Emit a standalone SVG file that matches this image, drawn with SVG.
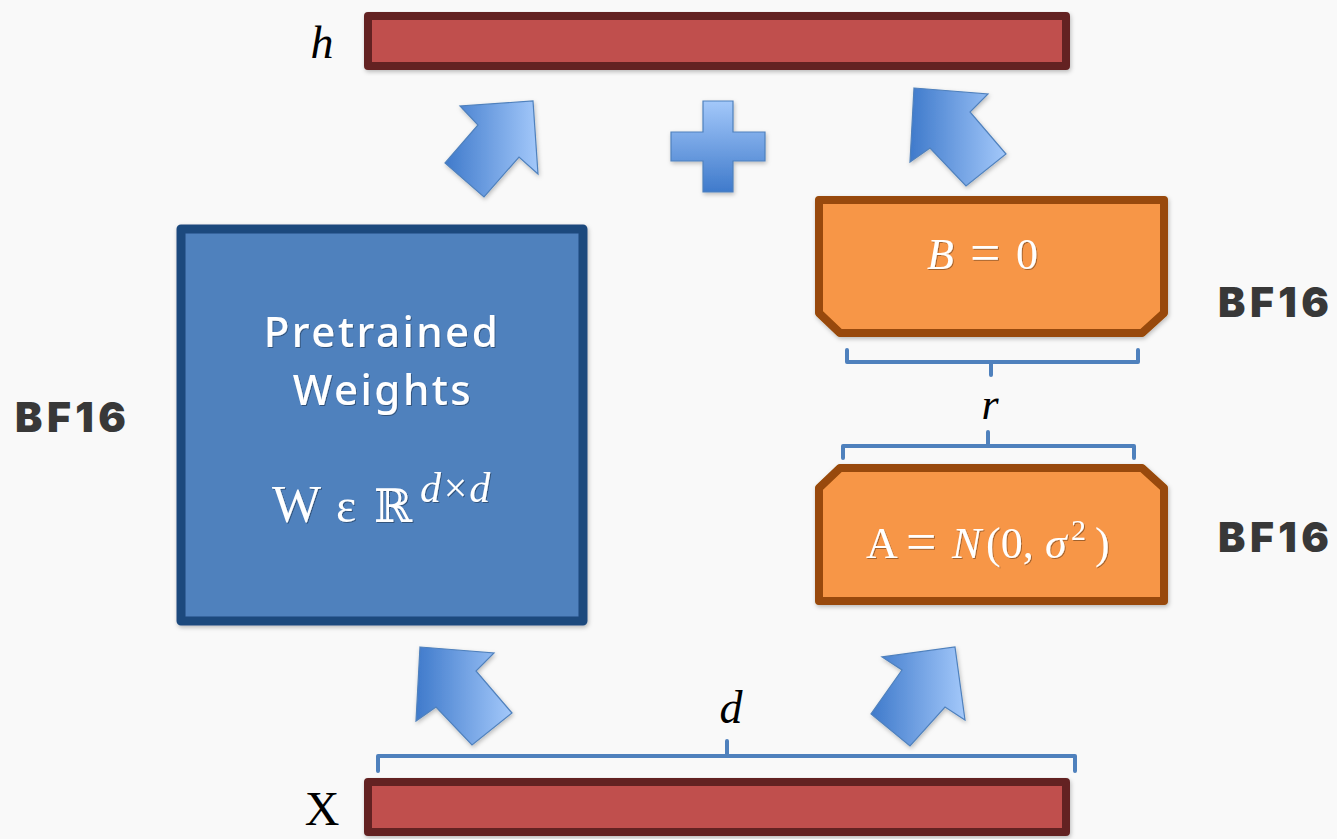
<svg xmlns="http://www.w3.org/2000/svg" width="1337" height="839" viewBox="0 0 1337 839">
<defs>
<linearGradient id="gArrowR" x1="0" y1="0" x2="1" y2="0">
<stop offset="0" stop-color="#3F7ACB"/><stop offset="1" stop-color="#A3C8FA"/>
</linearGradient>
<linearGradient id="gArrowL" x1="0" y1="0" x2="1" y2="0">
<stop offset="0" stop-color="#3F7ACB"/><stop offset="1" stop-color="#A3C8FA"/>
</linearGradient>
<linearGradient id="gPlus" x1="0" y1="0" x2="0" y2="1">
<stop offset="0" stop-color="#A3C8FA"/><stop offset="1" stop-color="#3F7ACB"/>
</linearGradient>
<filter id="sh" x="-10%" y="-10%" width="130%" height="130%">
<feDropShadow dx="1" dy="2" stdDeviation="2" flood-color="#000" flood-opacity="0.25"/>
</filter>
<filter id="tsh" x="-5%" y="-5%" width="110%" height="120%">
<feDropShadow dx="1" dy="1" stdDeviation="0.6" flood-color="#000" flood-opacity="0.35"/>
</filter>
<style>
.bar{fill:#C0504D;stroke:#632223;stroke-width:8;stroke-linejoin:round}
.arrow{stroke:#4F81BD;stroke-width:1.2;stroke-linejoin:miter}
.orange{fill:#F79646;stroke:#984807;stroke-width:8;stroke-linejoin:round}
.brace{fill:none;stroke:#4F81BD;stroke-width:4;stroke-linecap:round;stroke-linejoin:round}
.math{font-family:"Liberation Serif","DejaVu Serif",serif}
.it{font-style:italic}
.eq{font-size:54px}
.bf{font-family:Inter,"DejaVu Sans",sans-serif;font-weight:900;font-size:41px;fill:#383838;letter-spacing:4.5px}
.wt{font-family:"Noto Sans","Open Sans",sans-serif;font-weight:500;fill:#FFFFFF;font-size:42px;letter-spacing:2.5px}
</style>
</defs>
<rect x="0" y="0" width="1337" height="839" fill="#F9F9F9"/>

<g id="h-bar">
<rect class="bar" x="368" y="16" width="698" height="50" filter="url(#sh)"/>
<text class="math it" x="322" y="58" font-size="46" text-anchor="middle" fill="#000">h</text>
</g>

<g id="x-bar">
<rect class="bar" x="368" y="782" width="698" height="50" filter="url(#sh)"/>
<text class="math" x="322" y="825" font-size="48" text-anchor="middle" fill="#000">X</text>
</g>

<g id="pretrained">
<rect x="181" y="229" width="402" height="392" fill="#4F81BD" stroke="#1F497D" stroke-width="9" stroke-linejoin="round" filter="url(#sh)"/>
<g filter="url(#tsh)">
<text class="wt" x="382" y="347" text-anchor="middle">Pretrained</text>
<text class="wt" x="383" y="405" text-anchor="middle">Weights</text>
<text class="math" fill="#FFFFFF" font-size="52"><tspan x="272" y="522">W</tspan><tspan x="336" y="522" font-size="48">ε</tspan><tspan x="374" y="522" font-family="DejaVu Serif,serif" font-size="46">ℝ</tspan><tspan class="it" x="420" y="502" font-size="42">d×d</tspan></text>
</g>
</g>

<g id="lora-b">
<path class="orange" d="M819,200 H1164 V313 L1142,333 H840 L819,313 Z" filter="url(#sh)"/>
<text class="math" y="269" font-size="44" fill="#FFFFFF" filter="url(#tsh)"><tspan class="it" x="927">B</tspan><tspan class="eq" x="970" y="271">=</tspan><tspan x="1016" y="269">0</tspan></text>
</g>

<g id="lora-a">
<path class="orange" d="M840,468 H1142 L1164,488 V601 H819 V488 Z" filter="url(#sh)"/>
<text class="math" y="558" font-size="44" fill="#FFFFFF" filter="url(#tsh)"><tspan x="866">A</tspan><tspan class="eq" x="906" y="560">=</tspan><tspan class="it" x="952" y="558">N</tspan><tspan x="986">(0,</tspan><tspan class="it" x="1045">σ</tspan><tspan x="1071" y="540" font-size="30">2</tspan><tspan x="1095" y="558">)</tspan></text>
</g>

<g id="label-bf16-left"><text class="bf" x="15" y="432">BF16</text></g>
<g id="label-bf16-b"><text class="bf" x="1218" y="317">BF16</text></g>
<g id="label-bf16-a"><text class="bf" x="1218" y="552">BF16</text></g>

<g id="plus">
<path d="M703,101 H733 V132 H765 V161 H733 V192 H703 V161 H671 V132 H703 Z" fill="url(#gPlus)" class="arrow" filter="url(#sh)"/>
</g>

<g id="connectors">
<path class="arrow" fill="url(#gArrowR)" filter="url(#sh)" d="M533,101 L538,174 L519,157 L484,197 L445,163 L478,125 L460,106 Z"/>
<path class="arrow" fill="url(#gArrowL)" filter="url(#sh)" d="M914,88 L988,94 L970,112 L1006,154 L966,186 L930,148 L910,162 Z"/>
<path class="arrow" fill="url(#gArrowL)" filter="url(#sh)" d="M420,647 L494,653 L476,671 L512,713 L472,745 L436,707 L416,721 Z"/>
<path class="arrow" fill="url(#gArrowR)" filter="url(#sh)" d="M955,647 L965,720 L945,707 L910,746 L871,714 L902,670 L882,657 Z"/>
<path class="brace" d="M847,350 V362 H1138 V350 M991,362 V375"/>
<path class="brace" d="M843,458 V446 H1134 V458 M988,446 V432"/>
<path class="brace" d="M378,771 V756 H1075 V771 M727,756 V741"/>
<text class="math it" x="990" y="419" font-size="44" text-anchor="middle" fill="#000">r</text>
<text class="math it" x="731" y="723" font-size="46" text-anchor="middle" fill="#000">d</text>
</g>
</svg>
